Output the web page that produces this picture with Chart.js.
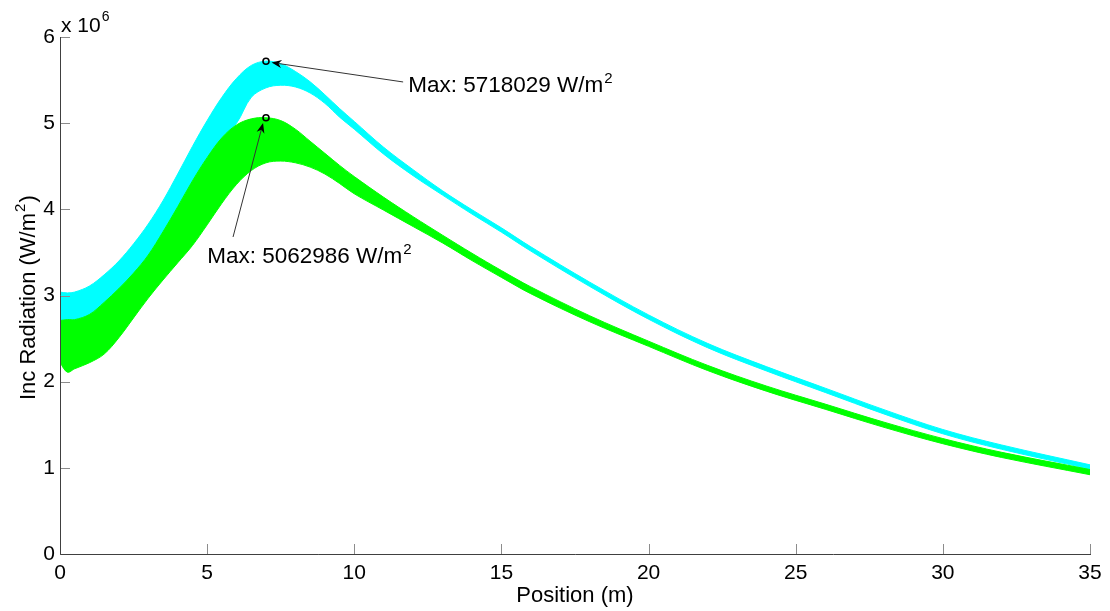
<!DOCTYPE html>
<html>
<head>
<meta charset="utf-8">
<script src="https://cdn.jsdelivr.net/npm/chart.js@4.4.1/dist/chart.umd.min.js"></script>
<style>
html, body { margin: 0; padding: 0; background: #fff; }
#wrap { width: 1110px; height: 611px; }
</style>
</head>
<body>
<div id="wrap"><canvas id="radChart" width="1110" height="611"></canvas></div>
<script>
// Position (m) along the track, shared by all four envelopes
const positions = [0, 0.25, 0.5, 1, 1.5, 2, 2.5, 3, 3.5, 4, 4.5, 5, 5.5, 6, 6.5, 7, 7.5, 8, 8.5, 9, 9.5, 10,
                   11, 12, 13, 14, 15, 16, 18, 20, 22, 24, 26, 28, 30, 32, 35];

// Incident radiation envelopes, x 10^6 W/m2
const cyanUpper = [3.04, 3.03, 3.04, 3.11, 3.24, 3.40, 3.60, 3.83, 4.10, 4.41, 4.73, 5.03, 5.30, 5.52, 5.67, 5.72, 5.69, 5.60, 5.48, 5.33, 5.17, 5.02,
                   4.72, 4.46, 4.215, 3.995, 3.785, 3.565, 3.155, 2.775, 2.445, 2.175, 1.925, 1.675, 1.445, 1.265, 1.035];
const cyanLower = [2.71, 2.72, 2.72, 2.78, 2.92, 3.08, 3.26, 3.47, 3.74, 4.03, 4.33, 4.60, 4.83, 5.00, 5.30, 5.41, 5.44, 5.42, 5.35, 5.23, 5.07, 4.93,
                   4.64, 4.39, 4.165, 3.945, 3.735, 3.515, 3.105, 2.725, 2.395, 2.125, 1.875, 1.625, 1.395, 1.215, 0.985];
const greenUpper = [2.71, 2.72, 2.72, 2.78, 2.92, 3.08, 3.26, 3.47, 3.74, 4.03, 4.33, 4.60, 4.83, 4.98, 5.05, 5.063, 5.03, 4.93, 4.79, 4.65, 4.51, 4.38,
                    4.14, 3.915, 3.70, 3.49, 3.29, 3.10, 2.765, 2.47, 2.19, 1.95, 1.74, 1.53, 1.34, 1.18, 0.98];
const greenLower = [2.22, 2.11, 2.15, 2.22, 2.32, 2.51, 2.74, 2.97, 3.18, 3.38, 3.58, 3.82, 4.07, 4.29, 4.45, 4.54, 4.56, 4.54, 4.49, 4.41, 4.30, 4.18,
                    3.99, 3.80, 3.61, 3.405, 3.21, 3.02, 2.695, 2.41, 2.13, 1.89, 1.68, 1.47, 1.28, 1.12, 0.92];

// Maximum points and their labels
const maxX = [7, 7];
const maxY = [5.718029, 5.062986];
const maxLabels = ['Max: 5718029 W/m', 'Max: 5062986 W/m'];

// Annotation anchors (data units): text left/baseline, arrow tail and tip
const noteTextX = [11.83, 5.0];
const noteTextY = [5.362, 3.377];
const arrowFromX = [11.66, 5.88];
const arrowFromY = [5.478, 3.679];
const arrowToX = [7.19, 6.90];
const arrowToY = [5.704, 5.002];

const CYAN = '#00ffff';
const GREEN = '#00ff00';
const FONT = '"Liberation Sans", Arial, Helvetica, sans-serif';

function toPoints(values) {
    return positions.map((p, i) => ({ x: p, y: values[i] }));
}

function band(values, color, fill, order) {
    return {
        data: toPoints(values),
        borderColor: color,
        backgroundColor: color,
        borderWidth: 1,
        pointRadius: 0,
        tension: 0.35,
        fill: fill,
        order: order
    };
}

function textWithSup(ctx, base, sup, x, y, size, supSize, rise) {
    ctx.font = size + 'px ' + FONT;
    ctx.fillText(base, x, y);
    const w = ctx.measureText(base).width;
    ctx.font = supSize + 'px ' + FONT;
    ctx.fillText(sup, x + w + 1, y - rise);
    return w + 1 + ctx.measureText(sup).width;
}

function drawArrow(ctx, x0, y0, x1, y1) {
    const dx = x1 - x0, dy = y1 - y0;
    const len = Math.hypot(dx, dy);
    const ux = dx / len, uy = dy / len;
    const nx = -uy, ny = ux;
    const L = 10, W = 4, notch = 3;
    ctx.strokeStyle = '#333';
    ctx.lineWidth = 1;
    ctx.beginPath();
    ctx.moveTo(x0, y0);
    ctx.lineTo(x1 - ux * (L - notch), y1 - uy * (L - notch));
    ctx.stroke();
    ctx.fillStyle = '#000';
    ctx.beginPath();
    ctx.moveTo(x1, y1);
    ctx.lineTo(x1 - ux * L + nx * W, y1 - uy * L + ny * W);
    ctx.lineTo(x1 - ux * (L - notch), y1 - uy * (L - notch));
    ctx.lineTo(x1 - ux * L - nx * W, y1 - uy * L - ny * W);
    ctx.closePath();
    ctx.fill();
}

// Axes, inward ticks, titles and annotations, MATLAB style
const decorations = {
    id: 'decorations',
    afterDraw(chart) {
        const { ctx, chartArea: a, scales: { x, y } } = chart;
        ctx.save();

        // inward tick marks
        ctx.strokeStyle = '#8c8c8c';
        ctx.lineWidth = 1;
        x.ticks.forEach(t => {
            const px = Math.round(x.getPixelForValue(t.value)) + 0.5;
            ctx.beginPath();
            ctx.moveTo(px, a.bottom);
            ctx.lineTo(px, a.bottom - 10);
            ctx.stroke();
        });
        y.ticks.forEach(t => {
            const py = Math.round(y.getPixelForValue(t.value)) + 0.5;
            ctx.beginPath();
            ctx.moveTo(a.left, py);
            ctx.lineTo(a.left + 10, py);
            ctx.stroke();
        });

        // axis lines
        ctx.strokeStyle = '#404040';
        ctx.beginPath();
        ctx.moveTo(Math.round(a.left) + 0.5, Math.round(a.top));
        ctx.lineTo(Math.round(a.left) + 0.5, Math.round(a.bottom) + 0.5);
        ctx.lineTo(Math.round(a.right) + 1, Math.round(a.bottom) + 0.5);
        ctx.stroke();

        ctx.fillStyle = '#000';
        ctx.textAlign = 'left';
        ctx.textBaseline = 'alphabetic';

        // exponent label
        textWithSup(ctx, 'x 10', '6', a.left + 1, 32, 21, 14, 11);

        // x title
        ctx.font = '22px ' + FONT;
        ctx.textAlign = 'center';
        ctx.fillText('Position (m)', (a.left + a.right) / 2, 602);
        ctx.textAlign = 'left';

        // y title, rotated
        ctx.save();
        ctx.translate(35, 400);
        ctx.rotate(-Math.PI / 2);
        const w = textWithSup(ctx, 'Inc Radiation (W/m', '2', 0, 0, 22, 15, 10);
        ctx.font = '22px ' + FONT;
        ctx.fillText(')', w + 1, 0);
        ctx.restore();

        // max annotations
        for (let i = 0; i < maxLabels.length; i++) {
            drawArrow(ctx,
                x.getPixelForValue(arrowFromX[i]), y.getPixelForValue(arrowFromY[i]),
                x.getPixelForValue(arrowToX[i]), y.getPixelForValue(arrowToY[i]));
            ctx.fillStyle = '#000';
            textWithSup(ctx, maxLabels[i], '2',
                x.getPixelForValue(noteTextX[i]), y.getPixelForValue(noteTextY[i]), 22.5, 15, 9);
        }

        ctx.restore();
    }
};

const tickFont = { family: FONT, size: 21 };

new Chart(document.getElementById('radChart'), {
    type: 'line',
    data: {
        datasets: [
            band(greenUpper, GREEN, '+1', 1),
            band(greenLower, GREEN, false, 1),
            band(cyanUpper, CYAN, '+1', 2),
            band(cyanLower, CYAN, false, 2),
            {
                data: maxX.map((v, i) => ({ x: v, y: maxY[i] })),
                showLine: false,
                pointRadius: 3,
                pointBorderWidth: 1.6,
                pointBorderColor: '#000',
                pointBackgroundColor: 'rgba(0,0,0,0)',
                order: 0
            }
        ]
    },
    options: {
        responsive: false,
        animation: false,
        events: [],
        layout: { padding: { top: 37, right: 20, left: 0, bottom: 0 } },
        plugins: {
            legend: { display: false },
            tooltip: { enabled: false },
            filler: { propagate: false }
        },
        scales: {
            x: {
                type: 'linear',
                min: 0,
                max: 35,
                ticks: { stepSize: 5, font: tickFont, color: '#000', padding: 7, maxRotation: 0, autoSkip: false },
                grid: { display: false, drawTicks: false },
                border: { display: false },
                afterFit: s => { s.height = 57; }
            },
            y: {
                type: 'linear',
                min: 0,
                max: 6,
                ticks: { stepSize: 1, font: tickFont, color: '#000', padding: 5 },
                grid: { display: false, drawTicks: false },
                border: { display: false },
                afterFit: s => { s.width = 60; }
            }
        }
    },
    plugins: [decorations]
});
</script>
</body>
</html>
